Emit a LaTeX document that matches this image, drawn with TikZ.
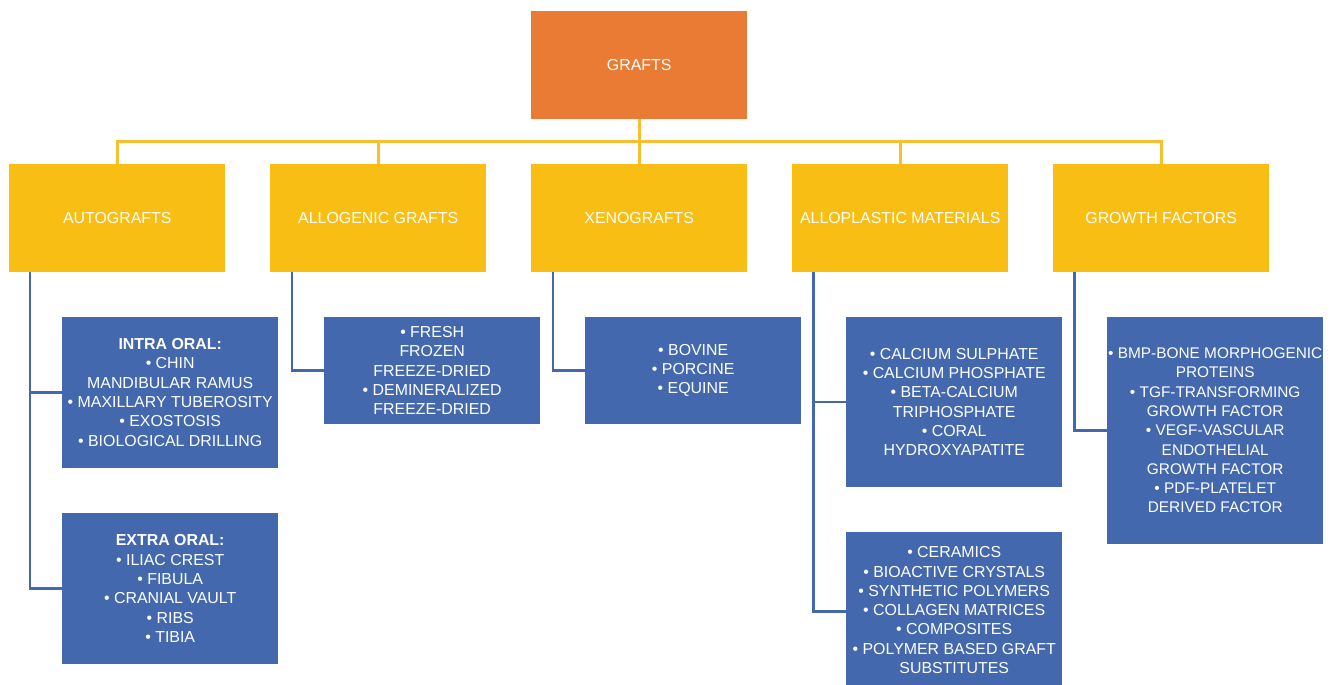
\documentclass[tikz,border=0pt]{standalone}
\usepackage{fontspec}
\setmainfont{Liberation Sans}
\definecolor{orangebox}{HTML}{E97B34}
\definecolor{yellowbox}{HTML}{F8BE14}
\definecolor{yellowline}{HTML}{F8C02E}
\definecolor{bluebox}{HTML}{4368AE}
\definecolor{blueline}{HTML}{4368AE}
\begin{document}
\begin{tikzpicture}[x=1bp,y=-1bp,
  basebox/.style={anchor=north west, inner sep=0pt, minimum width=216bp, text=white, align=center, font=\fontsize{15.9bp}{19.3bp}\selectfont},
  topbox/.style={basebox, fill=orangebox, minimum height=107.7bp},
  catbox/.style={basebox, fill=yellowbox, minimum height=107.7bp},
  leafbox/.style={basebox, fill=bluebox},
  yconn/.style={draw=yellowline, line width=2.6bp},
  bconn/.style={draw=blueline, line width=2.6bp}]
\useasboundingbox (0,0) rectangle (1332,684);
% top
\node[topbox] (grafts) at (531,11) {GRAFTS};
% categories
\node[catbox] (auto) at (9,164) {AUTOGRAFTS};
\node[catbox] (allo) at (270,164) {ALLOGENIC GRAFTS};
\node[catbox] (xeno) at (531,164) {XENOGRAFTS};
\node[catbox] (plast) at (792,164) {ALLOPLASTIC MATERIALS};
\node[catbox] (growth) at (1053,164) {GROWTH FACTORS};
% leaves
\node[leafbox, minimum height=151bp] (intra) at (62,316.7) {\textbf{INTRA ORAL:}\\• CHIN\\MANDIBULAR RAMUS\\• MAXILLARY TUBEROSITY\\• EXOSTOSIS\\• BIOLOGICAL DRILLING};
\node[leafbox, minimum height=151.3bp] (extra) at (62,512.7) {\textbf{EXTRA ORAL:}\\• ILIAC CREST\\• FIBULA\\• CRANIAL VAULT\\• RIBS\\• TIBIA};
\node[leafbox, minimum height=107.3bp] (allochild) at (324,316.7) {• FRESH\\FROZEN\\FREEZE-DRIED\\• DEMINERALIZED\\FREEZE-DRIED};
\node[leafbox, minimum height=107.3bp] (xenochild) at (585,316.7) {• BOVINE\\• PORCINE\\• EQUINE};
\node[leafbox, minimum height=170bp] (plastA) at (846,316.7) {• CALCIUM SULPHATE\\• CALCIUM PHOSPHATE\\• BETA-CALCIUM\\TRIPHOSPHATE\\• CORAL\\HYDROXYAPATITE};
\node[leafbox, minimum height=156bp] (plastB) at (846,532) {• CERAMICS\\• BIOACTIVE CRYSTALS\\• SYNTHETIC POLYMERS\\• COLLAGEN MATRICES\\• COMPOSITES\\• POLYMER BASED GRAFT\\SUBSTITUTES};
\node[leafbox, minimum height=227bp, font=\fontsize{15.4bp}{19.3bp}\selectfont] (growthchild) at (1107,316.7) {• BMP-BONE MORPHOGENIC\\PROTEINS\\• TGF-TRANSFORMING\\GROWTH FACTOR\\• VEGF-VASCULAR\\ENDOTHELIAL\\GROWTH FACTOR\\• PDF-PLATELET\\DERIVED FACTOR};
% yellow bus
\coordinate (bus) at (638.8,141.7);
\draw[yconn] (grafts.south) |- (auto.north |- bus) -- (auto.north);
\draw[yconn] (grafts.south) |- (allo.north |- bus) -- (allo.north);
\draw[yconn] (grafts.south) -- (xeno.north);
\draw[yconn] (grafts.south) |- (plast.north |- bus) -- (plast.north);
\draw[yconn] (grafts.south) |- (growth.north |- bus) -- (growth.north);
% blue connectors
\draw[bconn] ([xshift=21bp]auto.south west) |- (intra.west);
\draw[bconn] ([xshift=21bp]auto.south west) |- (extra.west);
\draw[bconn] ([xshift=22bp]allo.south west) |- (allochild.west);
\draw[bconn] ([xshift=22bp]xeno.south west) |- (xenochild.west);
\draw[bconn] ([xshift=21.5bp]plast.south west) |- (plastA.west);
\draw[bconn] ([xshift=21.5bp]plast.south west) |- ([yshift=-1.5bp]plastB.west);
\draw[bconn] ([xshift=21.5bp]growth.south west) |- (growthchild.west);
\end{tikzpicture}
\end{document}
